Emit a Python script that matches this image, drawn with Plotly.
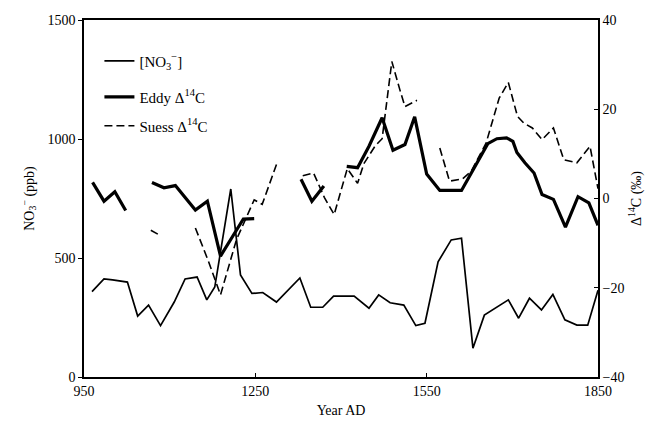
import plotly.graph_objects as go

# NO3- concentration (ppb), left axis
no3_year = [964, 985, 1000, 1026, 1044, 1063, 1084, 1108, 1127, 1148, 1165, 1179, 1207, 1224,
            1244, 1263, 1287, 1328, 1347, 1368, 1387, 1423, 1449, 1466, 1486, 1510, 1531, 1547,
            1570, 1593, 1611, 1631, 1651, 1671, 1693, 1711, 1730, 1751, 1771, 1792, 1813, 1832, 1850]
no3_val = [359, 412, 408, 399, 256, 302, 216, 315, 412, 420, 324, 378, 790, 429,
           351, 355, 315, 416, 293, 293, 340, 340, 289, 345, 312, 302, 216, 226,
           484, 576, 583, 121, 260, 289, 324, 247, 331, 282, 347, 240, 218, 218, 365]

# Eddy Delta14C (per mil), right axis; None marks gaps
eddy_year = [965, 985, 1004, 1023, None, 1069, 1090, 1110, 1145, 1166, 1189, 1229, 1248, None,
             1330, 1349, 1370, None, 1410, 1429, 1449, 1472, 1491, 1512, 1529, 1550, 1573, 1611,
             1625, 1657, 1673, 1690, 1701, 1708, 1722, 1738, 1752, 1772, 1793, 1815, 1834, 1850]
eddy_val = [3.6, -0.6, 1.5, -2.7, None, 3.6, 2.4, 2.9, -2.6, -0.6, -12.9, -4.6, -4.5, None,
            4.3, -0.6, 2.8, None, 7.2, 6.9, 11.7, 18.1, 10.8, 12.1, 18.3, 5.5, 1.8, 1.8,
            5.0, 12.3, 13.4, 13.6, 12.8, 10.3, 8.0, 5.7, 0.9, -0.2, -6.4, 0.4, -1.0, -6.0]

# Suess Delta14C (per mil), right axis
suess_year = [1067, 1085, None, 1145, 1168, 1189, 1217, 1248, 1262, 1287, None,
              1333, 1352, 1371, 1388, 1411, 1429, 1440, 1460, 1472, 1489, 1503, 1512, 1533, None,
              1573, 1590, 1613, 1628, 1654, 1677, 1693, 1709, 1720, 1735, 1752, 1772, 1790, 1813, 1836, 1850]
suess_val = [-7.1, -8.4, None, -6.6, -14.1, -21.6, -9.2, -0.3, -1.3, 7.6, None,
             5.1, 5.7, 0.2, -3.6, 6.7, 3.4, 7.8, 11.8, 13.4, 30.7, 24.4, 20.6, 22.0, None,
             11.3, 3.9, 4.4, 6.1, 12.4, 22.5, 26.0, 18.4, 16.9, 15.8, 13.2, 15.8, 8.7, 8.0, 11.7, 2.2]

x_ticks = [950, 1250, 1550, 1850]
y_ticks = [0, 500, 1000, 1500]
y2_ticks = [-40, -20, 0, 20, 40]

FONT = "Liberation Serif"
TXT = dict(family=FONT, size=14, color="black")

fig = go.Figure()
fig.add_trace(go.Scatter(x=no3_year, y=no3_val, mode="lines", name="[NO<sub>3</sub><sup>−</sup>]",
                         line=dict(color="black", width=1.7), legend="legend"))
fig.add_trace(go.Scatter(x=eddy_year, y=eddy_val, mode="lines", name="Eddy Δ<sup>14</sup>C",
                         yaxis="y2", connectgaps=False,
                         line=dict(color="black", width=3.2), legend="legend2"))
fig.add_trace(go.Scatter(x=suess_year, y=suess_val, mode="lines", name="Suess Δ<sup>14</sup>C",
                         yaxis="y2", connectgaps=False,
                         line=dict(color="black", width=1.6, dash="8px,4px"), legend="legend3"))

leg_common = dict(xanchor="left", yanchor="middle", bgcolor="rgba(0,0,0,0)",
                  font=dict(family=FONT, size=15, color="black"), borderwidth=0)

fig.update_layout(
    width=654, height=432,
    margin=dict(l=84, r=51, t=20, b=55),
    paper_bgcolor="white", plot_bgcolor="white",
    font=TXT,
    showlegend=True,
    legend=dict(x=0.03, y=0.885, **leg_common),
    legend2=dict(x=0.03, y=0.784, **leg_common),
    legend3=dict(x=0.03, y=0.703, **leg_common),
    xaxis=dict(range=[950, 1850], tickvals=x_ticks, showgrid=False, zeroline=False,
               showline=True, linecolor="black", linewidth=1.5, mirror=True,
               ticks="inside", ticklen=4, tickcolor="black", tickfont=TXT,
               title=dict(text="Year AD", font=TXT, standoff=8)),
    yaxis=dict(range=[0, 1500], tickvals=y_ticks, showgrid=False, zeroline=False,
               showline=True, linecolor="black", linewidth=1.5,
               ticks="outside", ticklen=4, tickcolor="black", tickfont=TXT,
               title=dict(text="NO<sub>3</sub><sup>−</sup> (ppb)", font=TXT, standoff=10)),
    yaxis2=dict(range=[-40, 40], tickvals=y2_ticks, overlaying="y", side="right",
                showgrid=False, zeroline=False,
                showline=True, linecolor="black", linewidth=1.5,
                ticks="inside", ticklen=4, tickcolor="black", tickfont=TXT,
                title=dict(text="Δ<sup>14</sup>C (‰)", font=TXT, standoff=8)),
)

fig.write_html("out.html")
